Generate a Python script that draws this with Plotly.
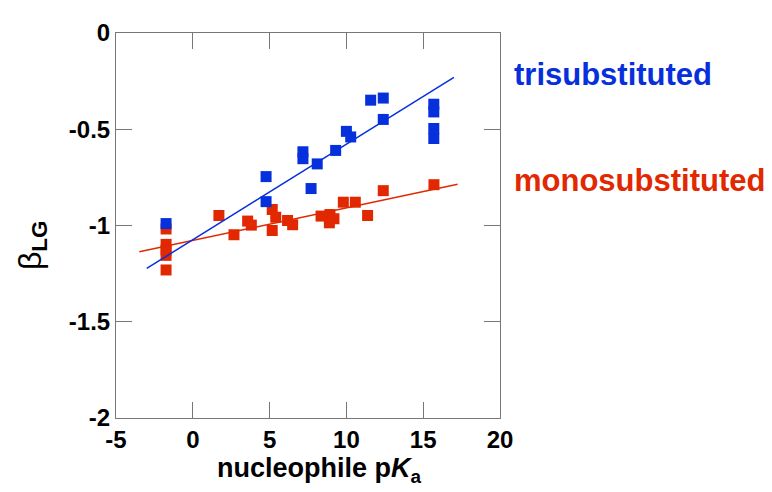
import plotly.graph_objects as go

# trisubstituted (blue)
tri_x = [-1.74, 4.77, 4.77, 7.17, 7.17, 7.7, 8.1, 9.3, 10.0, 10.28, 11.58, 12.4, 12.4, 15.69, 15.69, 15.69, 15.69]
tri_y = [-0.99, -0.746, -0.876, -0.617, -0.653, -0.808, -0.68, -0.61, -0.511, -0.54, -0.349, -0.338, -0.449, -0.370, -0.410, -0.496, -0.548]
tri_fit_x = [-3.0, 17.0]
tri_fit_y = [-1.223, -0.230]

# monosubstituted (red)
mono_x = [-1.74, -1.74, -1.74, -1.74, -1.74, 1.7, 2.68, 3.57, 3.81, 5.17, 5.4, 5.17, 6.17, 6.5, 8.35, 8.93, 9.19, 8.89, 9.8, 10.58, 11.38, 12.4, 15.7]
mono_y = [-1.018, -1.098, -1.127, -1.155, -1.231, -0.948, -1.048, -0.977, -0.998, -0.917, -0.957, -1.026, -0.974, -0.996, -0.951, -0.943, -0.965, -0.986, -0.879, -0.879, -0.948, -0.819, -0.788]
mono_fit_x = [-3.48, 17.24]
mono_fit_y = [-1.136, -0.786]

x_ticks = [-5, 0, 5, 10, 15, 20]
y_ticks = [0, -0.5, -1, -1.5, -2]
x_tick_text = ["-5", "0", "5", "10", "15", "20"]
y_tick_text = ["0", "-0.5", "-1", "-1.5", "-2"]

BLUE = "#0530dc"
RED = "#e12800"
FONT = "Liberation Sans, Arial, sans-serif"

fig = go.Figure()
fig.add_trace(go.Scatter(x=mono_x, y=mono_y, mode="markers",
                         marker=dict(symbol="square", size=11, color=RED, line=dict(width=0)),
                         showlegend=False))
fig.add_trace(go.Scatter(x=mono_fit_x, y=mono_fit_y, mode="lines",
                         line=dict(color=RED, width=1.5), showlegend=False))
fig.add_trace(go.Scatter(x=tri_x, y=tri_y, mode="markers",
                         marker=dict(symbol="square", size=11, color=BLUE, line=dict(width=0)),
                         showlegend=False))
fig.add_trace(go.Scatter(x=tri_fit_x, y=tri_fit_y, mode="lines",
                         line=dict(color=BLUE, width=1.5), showlegend=False))

axis_common = dict(showline=True, linecolor="#777777", linewidth=1, mirror="ticks",
                   ticks="inside", ticklen=16, tickcolor="#777777", tickwidth=1,
                   showgrid=False, zeroline=False,
                   tickfont=dict(family=FONT, size=24, color="black", weight="bold"))

fig.update_xaxes(range=[-5, 20], tickvals=x_ticks, ticktext=x_tick_text, **axis_common)
fig.update_yaxes(range=[-2, 0], tickvals=y_ticks, ticktext=y_tick_text, **axis_common)

fig.add_annotation(text="nucleophile p<i>K</i><sub>a</sub>", xref="paper", yref="paper",
                   x=0.531, y=-0.085, showarrow=False, xanchor="center", yanchor="top",
                   font=dict(family=FONT, size=27, color="black", weight="bold"))
fig.add_annotation(text="β<sub><b>LG</b></sub>", xref="paper", yref="paper",
                   x=-0.219, y=0.449, showarrow=False, xanchor="center", yanchor="middle",
                   textangle=-90, font=dict(family=FONT, size=32, color="black"))
fig.add_annotation(text="trisubstituted", xref="paper", yref="paper",
                   x=1.031, y=0.891, showarrow=False, xanchor="left", yanchor="middle",
                   font=dict(family=FONT, size=31, color=BLUE, weight="bold"))
fig.add_annotation(text="monosubstituted", xref="paper", yref="paper",
                   x=1.031, y=0.618, showarrow=False, xanchor="left", yanchor="middle",
                   font=dict(family=FONT, size=31, color=RED, weight="bold"))

fig.update_layout(width=772, height=492, margin=dict(l=108, r=280, t=25, b=82),
                  plot_bgcolor="white", paper_bgcolor="white")

fig.write_html("out.html")
